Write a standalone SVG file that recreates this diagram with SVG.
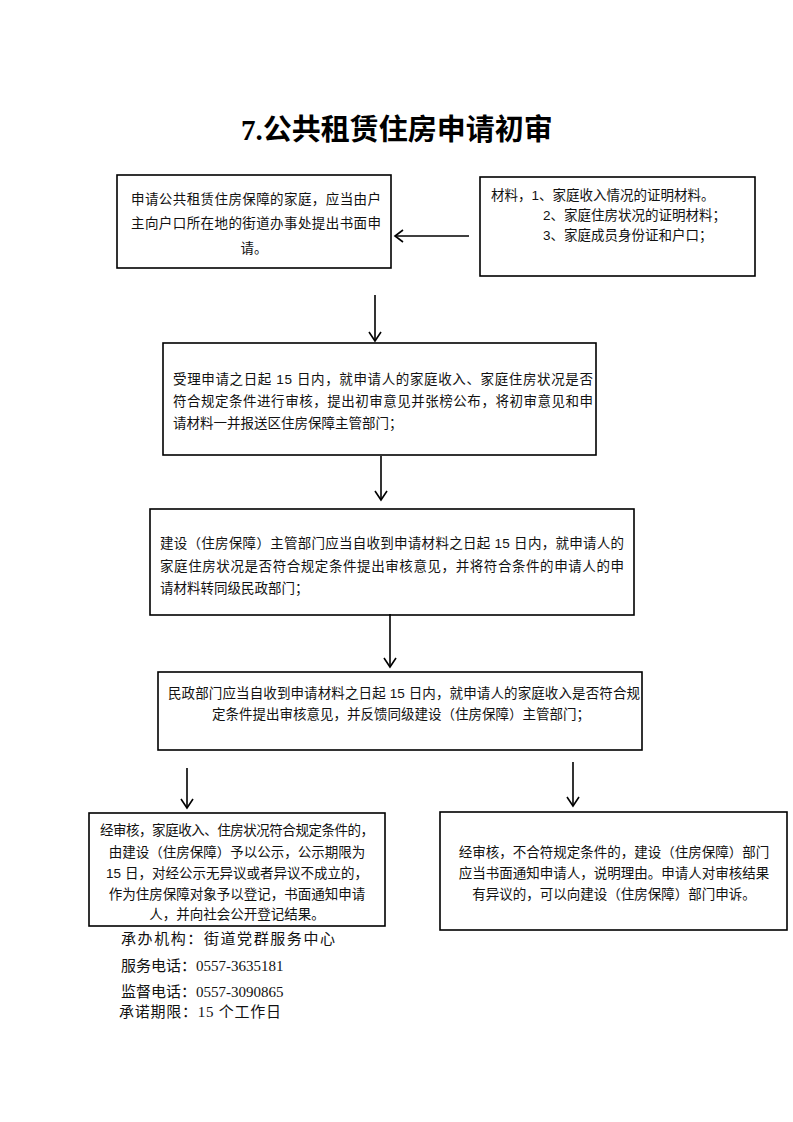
<svg xmlns="http://www.w3.org/2000/svg" width="793" height="1122" viewBox="0 0 793 1122">
<style>
.box{fill:#fff;stroke:#000;stroke-width:1.6}
.t{font-family:"Liberation Sans","Noto Sans CJK SC",sans-serif;font-size:13.5px;fill:#111}
.f{font-family:"Liberation Serif","Noto Sans CJK SC",serif;font-size:15px;fill:#111}
.c{stroke:#000;stroke-width:1.6;fill:none}
.ah{stroke:#000;stroke-width:1.6;fill:none}
</style>
<rect width="793" height="1122" fill="#fff"/>
<text x="397" y="140" text-anchor="middle" font-family="Liberation Serif,'Noto Sans CJK SC',serif" font-weight="bold" font-size="29" fill="#000">7.公共租赁住房申请初审</text>
<g id="n1"><rect class="box" x="117" y="175" width="274" height="93"/>
<text class="t" x="131" y="204" textLength="250">申请公共租赁住房保障的家庭，应当由户</text>
<text class="t" x="131" y="228" textLength="250">主向户口所在地的街道办事处提出书面申</text>
<text class="t" x="254" y="253" text-anchor="middle">请。</text></g>
<g id="n2"><rect class="box" x="480" y="177" width="275" height="99"/>
<text class="t" x="491" y="200" font-size="13">材料，1、家庭收入情况的证明材料。</text>
<text class="t" x="543" y="220" font-size="13">2、家庭住房状况的证明材料；</text>
<text class="t" x="543" y="240" font-size="13">3、家庭成员身份证和户口；</text></g>
<g id="n3"><rect class="box" x="163" y="343" width="433" height="112"/>
<text class="t" x="173" y="384" textLength="420">受理申请之日起 15 日内，就申请人的家庭收入、家庭住房状况是否</text>
<text class="t" x="173" y="406" textLength="420">符合规定条件进行审核，提出初审意见并张榜公布，将初审意见和申</text>
<text class="t" x="173" y="428">请材料一并报送区住房保障主管部门；</text></g>
<g id="n4"><rect class="box" x="150" y="509" width="484" height="106"/>
<text class="t" x="160" y="548" textLength="464">建设（住房保障）主管部门应当自收到申请材料之日起 15 日内，就申请人的</text>
<text class="t" x="160" y="571" textLength="464">家庭住房状况是否符合规定条件提出审核意见，并将符合条件的申请人的申</text>
<text class="t" x="160" y="593">请材料转同级民政部门；</text></g>
<g id="n5"><rect class="box" x="158" y="672" width="484" height="78"/>
<text class="t" x="168" y="698" textLength="472">民政部门应当自收到申请材料之日起 15 日内，就申请人的家庭收入是否符合规</text>
<text class="t" x="212" y="719">定条件提出审核意见，并反馈同级建设（住房保障）主管部门；</text></g>
<g id="n6"><rect class="box" x="89" y="813" width="296" height="113"/>
<text class="t" x="237" y="835" text-anchor="middle" textLength="274">经审核，家庭收入、住房状况符合规定条件的，</text>
<text class="t" x="237" y="857" text-anchor="middle">由建设（住房保障）予以公示，公示期限为</text>
<text class="t" x="237" y="878" text-anchor="middle">15 日，对经公示无异议或者异议不成立的，</text>
<text class="t" x="237" y="899" text-anchor="middle">作为住房保障对象予以登记，书面通知申请</text>
<text class="t" x="237" y="919" text-anchor="middle">人，并向社会公开登记结果。</text></g>
<g id="n7"><rect class="box" x="440" y="812" width="347" height="118"/>
<text class="t" x="614" y="857" text-anchor="middle">经审核，不合符规定条件的，建设（住房保障）部门</text>
<text class="t" x="614" y="878" text-anchor="middle">应当书面通知申请人，说明理由。申请人对审核结果</text>
<text class="t" x="614" y="899" text-anchor="middle">有异议的，可以向建设（住房保障）部门申诉。</text></g>
<g id="footer">
<text class="f" x="121" y="944" textLength="214">承办机构：街道党群服务中心</text>
<text class="f" x="121" y="971">服务电话：0557-3635181</text>
<text class="f" x="121" y="997">监督电话：0557-3090865</text>
<text class="f" x="119" y="1017" textLength="162">承诺期限：15 个工作日</text></g>
<g id="connectors">
<line class="c" x1="469" y1="236" x2="395" y2="236"/><polyline class="ah" points="403,230 395,236 403,242"/>
<line class="c" x1="375" y1="295" x2="375" y2="341"/><polyline class="ah" points="369,332 375,341 381,332"/>
<line class="c" x1="381" y1="456" x2="381" y2="500"/><polyline class="ah" points="375,491 381,500 387,491"/>
<line class="c" x1="390" y1="614" x2="390" y2="667"/><polyline class="ah" points="384,658 390,667 396,658"/>
<line class="c" x1="187" y1="768" x2="187" y2="808"/><polyline class="ah" points="181,799 187,808 193,799"/>
<line class="c" x1="573" y1="762" x2="573" y2="806"/><polyline class="ah" points="567,797 573,806 579,797"/>
</g>
</svg>
